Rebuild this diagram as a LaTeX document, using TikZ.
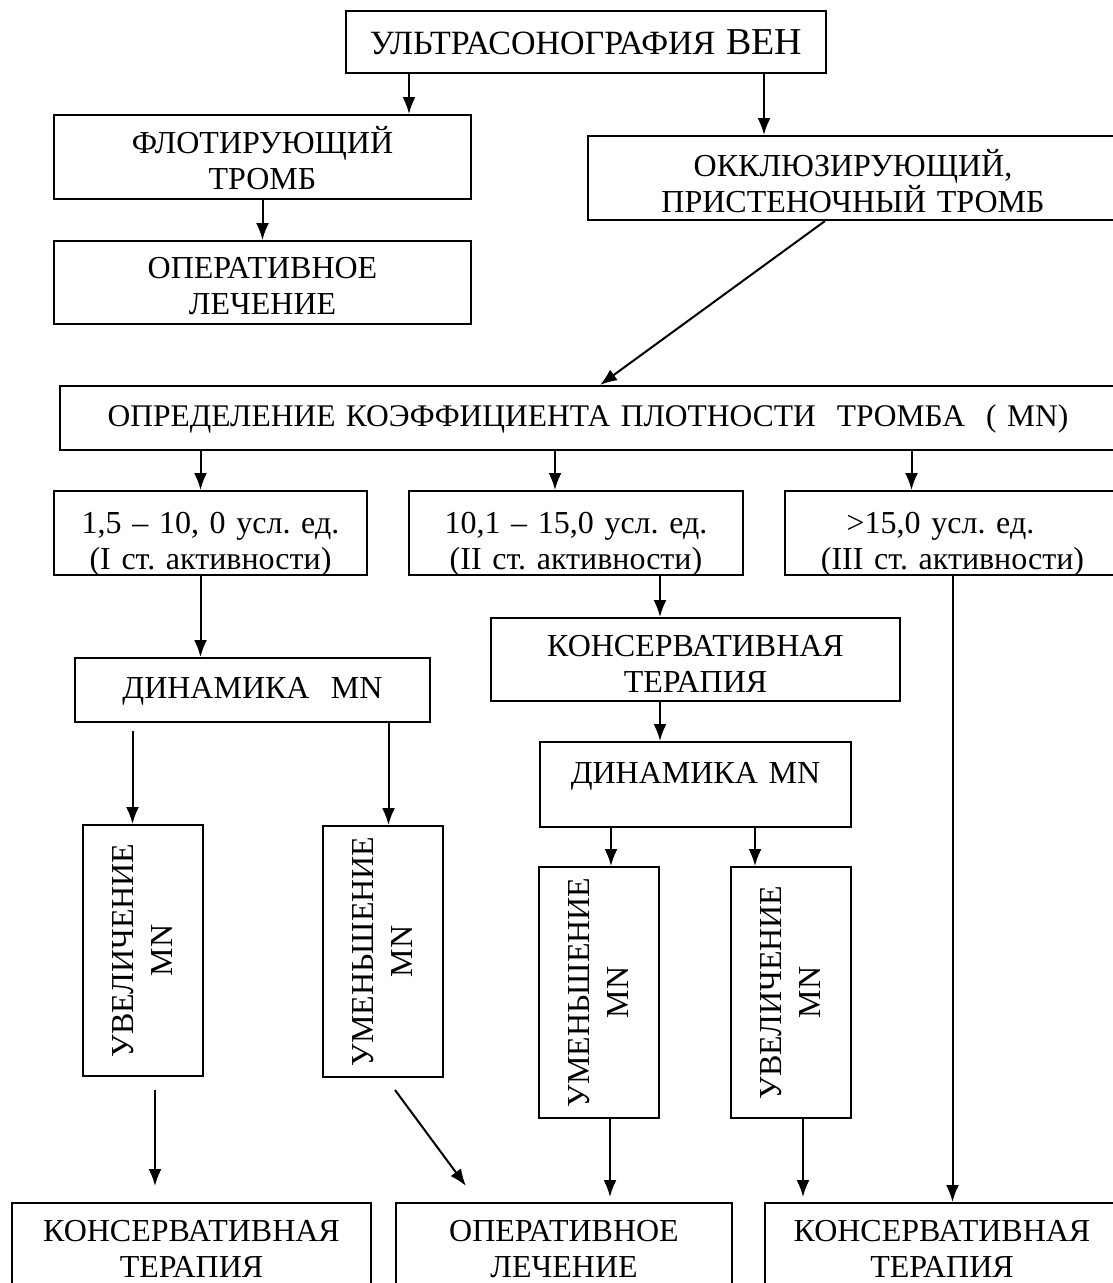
\documentclass[tikz,border=0pt]{standalone}
\usepackage{fontspec}
\setmainfont{Liberation Serif}
\usetikzlibrary{arrows.meta}
\frenchspacing

\begin{document}
\begin{tikzpicture}[x=1pt,y=-1pt,
  box/.style={draw,line width=2pt,inner sep=0pt,anchor=north west,align=center,font=\fontsize{32}{36.5}\selectfont},
  vbox/.style={draw,line width=2pt,inner sep=0pt,rotate=90,align=center,minimum width=251pt,minimum height=120pt,font=\fontsize{32}{39}\selectfont},
  arr/.style={line width=2pt,-{Latex[length=17pt,width=13pt]}}]
  \clip (0,0) rectangle (1113,1283);

  %upper part
  \node[box,text width=480pt,text height=43pt,text depth=19pt] (ultra) at (345,10) {{\fontsize{34}{36}\selectfont УЛЬТРАСОНОГРАФИЯ} {\fontsize{38}{36}\selectfont ВЕН}};
  \node[box,text width=417pt,text height=38pt,text depth=46pt] (flot) at (53,114) {ФЛОТИРУЮЩИЙ\\ТРОМБ};
  \node[box,text width=417pt,text height=37pt,text depth=46pt] (oper1) at (53,240) {ОПЕРАТИВНОЕ\\ЛЕЧЕНИЕ};
  \node[box,text width=530pt,text height=40pt,text depth=44pt] (okkl) at (587,135) {ОККЛЮЗИРУЮЩИЙ,\\ПРИСТЕНОЧНЫЙ ТРОМБ};
  \node[box,text width=1060pt,text height=40pt,text depth=24pt,font=\fontsize{31.5}{36}\selectfont] (opred) at (59,385) {ОПРЕДЕЛЕНИЕ КОЭФФИЦИЕНТА ПЛОТНОСТИ\ \ ТРОМБА\ \ ( MN)\kern4pt};

  %activity levels
  \node[box,text width=313pt,text height=42pt,text depth=42pt] (r1) at (53,490) {1,5 – 10, 0 усл. ед.\\(I ст. активности)};
  \node[box,text width=334pt,text height=42pt,text depth=42pt] (r2) at (408,490) {10,1 – 15,0 усл. ед.\\(II ст. активности)};
  \node[box,text width=335pt,text height=42pt,text depth=42pt] (r3) at (784,490) {>15,0 усл. ед.\kern24pt\\(III ст. активности)};

  \node[box,text width=409pt,text height=38pt,text depth=45pt] (kons1) at (490,617) {КОНСЕРВАТИВНАЯ\\ТЕРАПИЯ};
  \node[box,text width=355pt,text height=40pt,text depth=24pt] (din1) at (74,657) {ДИНАМИКА\ \ MN};
  \node[box,text width=311pt,text height=41pt,text depth=44pt] (din2) at (539,741) {ДИНАМИКА MN};

  %vertical boxes
  \node[vbox] (uv1) at (143,950.5) {УВЕЛИЧЕНИЕ\\MN};
  \node[vbox] (um1) at (383,951.5) {УМЕНЬШЕНИЕ\\MN};
  \node[vbox] (um2) at (599,992.5) {УМЕНЬШЕНИЕ\\MN};
  \node[vbox] (uv2) at (790.5,992.5) {УВЕЛИЧЕНИЕ\\MN};

  %results
  \node[box,text width=359pt,text height=38pt,text depth=60pt] (kons2) at (11,1202) {КОНСЕРВАТИВНАЯ\\ТЕРАПИЯ};
  \node[box,text width=336pt,text height=38pt,text depth=60pt] (oper2) at (395,1202) {ОПЕРАТИВНОЕ\\ЛЕЧЕНИЕ};
  \node[box,text width=354pt,text height=38pt,text depth=60pt] (kons3) at (764,1202) {КОНСЕРВАТИВНАЯ\\ТЕРАПИЯ};

  %arrows
  \draw[arr] ([xshift=-177pt]ultra.south) -- ([xshift=-177pt]ultra.south |- flot.north);
  \draw[arr] ([xshift=178pt]ultra.south) -- ([xshift=178pt]ultra.south |- okkl.north);
  \draw[arr] (flot.south) -- (flot.south |- oper1.north);
  \draw[arr] ([xshift=238pt]okkl.south west) -- ([xshift=541pt]opred.north west);
  \draw[arr] ([xshift=-10pt]r1.north |- opred.south) -- ([xshift=-10pt]r1.north);
  \draw[arr] ([xshift=-21pt]r2.north |- opred.south) -- ([xshift=-21pt]r2.north);
  \draw[arr] ([xshift=-41pt]r3.north |- opred.south) -- ([xshift=-41pt]r3.north);
  \draw[arr] ([xshift=-10pt]r1.south) -- ([xshift=-10pt]r1.south |- din1.north);
  \draw[arr] ([xshift=84pt]r2.south) -- ([xshift=84pt]r2.south |- kons1.north);
  \draw[arr] ([xshift=-35.5pt]kons1.south) -- ([xshift=-35.5pt]kons1.south |- din2.north);
  \draw[arr] ([xshift=-120pt,yshift=-8pt]din1.south) -- ([xshift=-120pt]din1.south |- uv1.east);
  \draw[arr] ([xshift=136pt]din1.south) -- ([xshift=136pt]din1.south |- um1.east);
  \draw[arr] ([xshift=-84.5pt]din2.south) -- ([xshift=-84.5pt]din2.south |- um2.east);
  \draw[arr] ([xshift=59.5pt]din2.south) -- ([xshift=59.5pt]din2.south |- uv2.east);
  \draw[arr] ([xshift=12pt,yshift=-13pt]uv1.west) -- ([xshift=12pt,yshift=16pt]uv1.west |- kons2.north);
  \draw[arr] ([xshift=12pt,yshift=-12pt]um1.west) -- ([xshift=71pt,yshift=16pt]oper2.north west);
  \draw[arr] ([xshift=11pt]um2.west) -- ([xshift=11pt,yshift=5pt]um2.west |- oper2.north);
  \draw[arr] ([xshift=12.5pt]uv2.west) -- ([xshift=12.5pt,yshift=5pt]uv2.west |- kons3.north);
  \draw[arr] (r3.south) -- (r3.south |- kons3.north);
\end{tikzpicture}
\end{document}
